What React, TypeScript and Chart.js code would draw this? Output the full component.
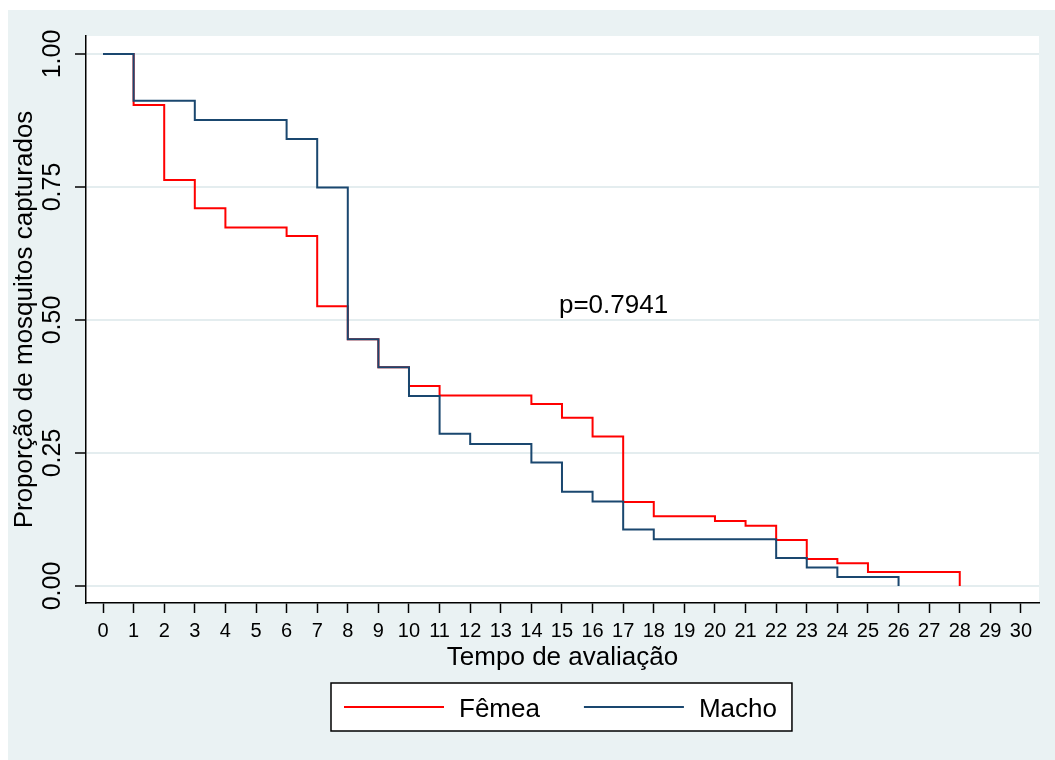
import React, { useEffect, useRef } from "react";
import { Chart, registerables } from "chart.js";

Chart.register(...registerables);

// ---- Data ----
const femeaTimes = [0, 1, 2, 3, 4, 6, 7, 8, 9, 10, 11, 14, 15, 16, 17, 18, 20, 21, 22, 23, 24, 25, 28];
const femeaSurv = [1, 0.904, 0.763, 0.71, 0.674, 0.658, 0.526, 0.464, 0.411, 0.376, 0.358, 0.342, 0.316, 0.281, 0.158, 0.131, 0.122, 0.113, 0.0865, 0.0508, 0.0427, 0.0263, 0];
const machoTimes = [0, 1, 3, 6, 7, 8, 9, 10, 11, 12, 14, 15, 16, 17, 18, 22, 23, 24, 26];
const machoSurv = [1, 0.912, 0.876, 0.84, 0.749, 0.464, 0.411, 0.357, 0.286, 0.267, 0.232, 0.177, 0.159, 0.106, 0.088, 0.0526, 0.0345, 0.017, 0];

const xTickValues = Array.from({ length: 31 }, (_, i) => i);
const yTickValues = [0, 0.25, 0.5, 0.75, 1];
const seriesLabels = ["Fêmea", "Macho"];
const pValueText = "p=0.7941";
const pValuePos = { x: 14.9, y: 0.513 };
const xTitle = "Tempo de avaliação";
const yTitle = "Proporção de mosquitos capturados";

const FONT = "'Liberation Sans', Arial, sans-serif";
const BG = "#EAF2F3";
const RED = "#FF0000";
const NAVY = "#1A476F";

const toPoints = (t: number[], s: number[]) => t.map((x, i) => ({ x, y: s[i] }));

const backgroundPlugin = {
  id: "stataBackground",
  beforeDraw(chart: any) {
    const { ctx, chartArea } = chart;
    ctx.save();
    ctx.fillStyle = "#FFFFFF";
    ctx.fillRect(0, 0, chart.width, chart.height);
    ctx.fillStyle = BG;
    ctx.fillRect(8, 10, chart.width - 8, chart.height - 10);
    ctx.fillStyle = "#FFFFFF";
    ctx.fillRect(chartArea.left, chartArea.top, chartArea.right - chartArea.left, chartArea.bottom - chartArea.top);
    ctx.restore();
  },
};

const annotationPlugin = {
  id: "pValueAndLegend",
  afterDraw(chart: any) {
    const { ctx, scales, chartArea } = chart;
    ctx.save();
    // p-value annotation
    ctx.font = `26px ${FONT}`;
    ctx.fillStyle = "#000";
    ctx.textAlign = "left";
    ctx.textBaseline = "alphabetic";
    ctx.fillText(pValueText, scales.x.getPixelForValue(pValuePos.x), scales.y.getPixelForValue(pValuePos.y));

    // Legend box
    ctx.font = `26px ${FONT}`;
    const lineLen = 100;
    const padL = 13;
    const padR = 15;
    const gapText = 15;
    const gapItem = 44;
    const widths = chart.data.datasets.map((d: any) => ctx.measureText(d.label).width);
    let total = padL + padR;
    widths.forEach((w: number, i: number) => {
      total += lineLen + gapText + w + (i > 0 ? gapItem : 0);
    });
    const cx = (chartArea.left + chartArea.right) / 2 - 1;
    const boxLeft = Math.round(cx - total / 2);
    const boxTop = 683;
    const boxH = 48;
    ctx.fillStyle = "#FFFFFF";
    ctx.fillRect(boxLeft, boxTop, total, boxH);
    ctx.strokeStyle = "#000";
    ctx.lineWidth = 1.5;
    ctx.strokeRect(boxLeft, boxTop, total, boxH);
    let x = boxLeft + padL;
    chart.data.datasets.forEach((d: any, i: number) => {
      if (i > 0) x += gapItem;
      ctx.strokeStyle = d.borderColor;
      ctx.lineWidth = 2;
      ctx.beginPath();
      ctx.moveTo(x, boxTop + 24);
      ctx.lineTo(x + lineLen, boxTop + 24);
      ctx.stroke();
      x += lineLen + gapText;
      ctx.fillStyle = "#000";
      ctx.fillText(d.label, x, boxTop + 34);
      x += widths[i];
    });
    ctx.restore();
  },
};

export default function App() {
  const canvasRef = useRef<HTMLCanvasElement | null>(null);

  useEffect(() => {
    if (!canvasRef.current) return;
    const chart = new Chart(canvasRef.current, {
      type: "line",
      data: {
        datasets: [
          {
            label: seriesLabels[0],
            data: toPoints(femeaTimes, femeaSurv),
            borderColor: RED,
            backgroundColor: RED,
            borderWidth: 2,
            pointRadius: 0,
            stepped: "before",
            fill: false,
            order: 1,
          },
          {
            label: seriesLabels[1],
            data: toPoints(machoTimes, machoSurv),
            borderColor: NAVY,
            backgroundColor: NAVY,
            borderWidth: 2,
            pointRadius: 0,
            stepped: "before",
            fill: false,
            order: 0,
          },
        ],
      },
      options: {
        responsive: false,
        animation: false,
        layout: { padding: { left: 8, right: 16, top: 36, bottom: 77 } },
        plugins: {
          legend: { display: false },
          tooltip: { enabled: false },
        },
        scales: {
          x: {
            type: "linear",
            min: -0.556,
            max: 30.59,
            afterBuildTicks: (scale: any) => {
              scale.ticks = xTickValues.map((v) => ({ value: v }));
            },
            afterFit: (scale: any) => {
              scale.height = 80;
            },
            ticks: {
              autoSkip: false,
              maxRotation: 0,
              minRotation: 0,
              padding: 6,
              color: "#000",
              font: { family: FONT, size: 20 },
              callback: (v: any) => String(v),
            },
            grid: {
              drawOnChartArea: false,
              drawTicks: true,
              tickLength: 10,
              tickColor: "#000",
              tickWidth: 1.5,
            },
            border: { display: true, color: "#000", width: 1.5 },
            title: {
              display: true,
              text: xTitle,
              color: "#000",
              font: { family: FONT, size: 26 },
              padding: { top: 0, bottom: 10 },
            },
          },
          y: {
            type: "linear",
            min: -0.032,
            max: 1.0338,
            afterBuildTicks: (scale: any) => {
              scale.ticks = yTickValues.map((v) => ({ value: v }));
            },
            afterFit: (scale: any) => {
              scale.width = 78;
            },
            ticks: {
              autoSkip: false,
              minRotation: 90,
              maxRotation: 90,
              crossAlign: "center",
              padding: -2,
              color: "#000",
              font: { family: FONT, size: 25 },
              callback: (v: any) => Number(v).toFixed(2),
            },
            grid: {
              color: "#E4EDEF",
              lineWidth: 2,
              drawTicks: true,
              tickLength: 11,
              tickColor: "#000",
              tickWidth: 1.5,
            },
            border: { display: true, color: "#000", width: 1.5 },
            title: {
              display: true,
              text: yTitle,
              color: "#000",
              font: { family: FONT, size: 26 },
              padding: { top: 1, bottom: 0 },
            },
          },
        },
      },
      plugins: [backgroundPlugin, annotationPlugin],
    } as any);
    return () => chart.destroy();
  }, []);

  return (
    <div style={{ position: "fixed", left: 0, top: 0, width: 1055, height: 760 }}>
      <canvas ref={canvasRef} width={1055} height={760} style={{ display: "block" }} />
    </div>
  );
}
